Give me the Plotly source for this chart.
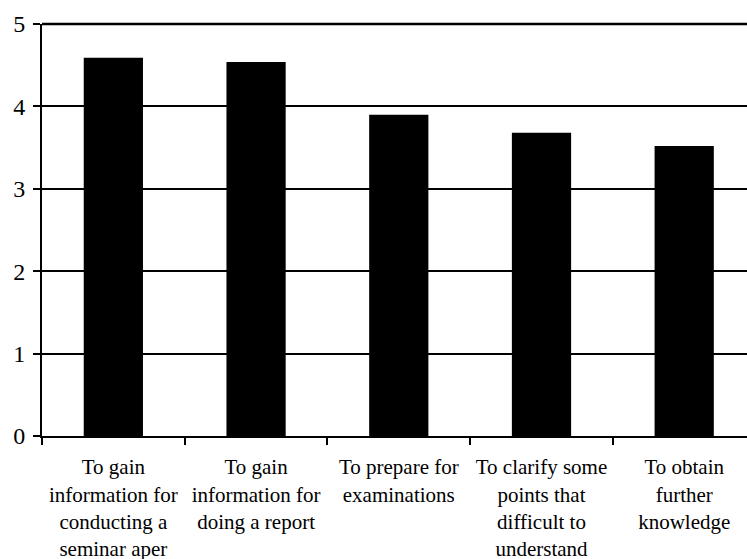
import plotly.graph_objects as go

categories = [
    "To gain<br>information for<br>conducting a<br>seminar aper",
    "To gain<br>information for<br>doing a report",
    "To prepare for<br>examinations",
    "To clarify some<br>points that<br>difficult to<br>understand",
    "To obtain<br>further<br>knowledge",
]
values = [4.59, 4.54, 3.90, 3.68, 3.52]
y_ticks = [0, 1, 2, 3, 4, 5]

fig = go.Figure(go.Bar(x=categories, y=values, marker=dict(color="black", line=dict(width=0)),
                       cliponaxis=False))

font = "Liberation Serif"
fig.update_layout(
    width=747, height=559,
    margin=dict(l=42, r=0, t=24, b=123, autoexpand=False),
    paper_bgcolor="white", plot_bgcolor="white",
    bargap=0.585,
    showlegend=False,
    font=dict(family=font, color="black"),
)
# top gridline at the highest tick value, drawn in paper coordinates
fig.add_shape(type="line", xref="paper", x0=0, x1=1, yref="paper", y0=1, y1=1,
              line=dict(color="black", width=2.5), layer="above")
fig.update_xaxes(
    type="category",
    range=[-0.5, 4.44],
    showline=True, linecolor="black", linewidth=2,
    ticks="outside", tickson="boundaries", ticklen=7, tickwidth=2, tickcolor="black",
    tickfont=dict(size=21, family=font, color="black"),
    showgrid=False,
    tickangle=0,
    ticklabelstandoff=11,
)
fig.update_yaxes(
    range=[0, y_ticks[-1]],
    tickvals=y_ticks,
    showline=True, linecolor="black", linewidth=2,
    ticks="outside", ticklen=7, tickwidth=2, tickcolor="black",
    showgrid=True, gridcolor="black", gridwidth=2,
    zeroline=False,
    tickfont=dict(size=24, family=font, color="black"),
    ticklabelstandoff=3,
)

fig.write_html("out.html", config={"displayModeBar": False})
